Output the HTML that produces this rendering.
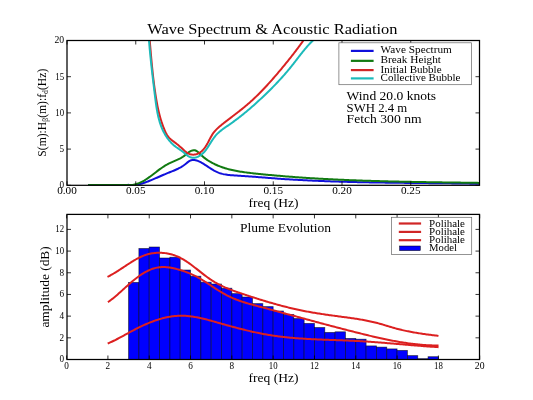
<!DOCTYPE html>
<html><head><meta charset="utf-8"><style>
html,body{margin:0;padding:0;background:#fff;width:533px;height:400px;overflow:hidden}
svg{display:block;font-family:"Liberation Serif",serif;filter:blur(0.35px)}
text{stroke:none}
</style></head><body>
<svg width="533" height="400" viewBox="0 0 533 400" font-family="Liberation Serif" fill="#000"><rect x="0" y="0" width="533" height="400" fill="#fff"/>
<defs><clipPath id="c1"><rect x="67.00" y="40.50" width="412.50" height="144.80"/></clipPath>
<clipPath id="c2"><rect x="67.00" y="214.40" width="412.50" height="145.10"/></clipPath></defs>
<g clip-path="url(#c1)" fill="none" stroke-width="2" stroke-linejoin="round" stroke-linecap="butt">
<path d="M88.1,184.9 L128,184.9 L127.98,184.85 L129.25,185.07 L130.51,185.21 L131.74,185.28 L132.95,185.27 L134.15,185.21 L135.34,185.08 L136.52,184.90 L137.68,184.68 L138.84,184.42 L139.98,184.12 L141.13,183.79 L142.27,183.44 L143.40,183.07 L144.53,182.68 L145.67,182.28 L146.79,181.86 L147.92,181.44 L149.05,181.00 L150.17,180.55 L151.29,180.09 L152.41,179.63 L153.53,179.15 L154.65,178.68 L155.77,178.19 L156.88,177.71 L158.00,177.22 L159.12,176.73 L160.23,176.24 L161.34,175.76 L162.46,175.27 L163.57,174.79 L164.68,174.32 L165.80,173.85 L166.91,173.38 L168.02,172.93 L169.14,172.48 L170.25,172.04 L171.36,171.60 L172.47,171.15 L173.58,170.70 L174.68,170.24 L175.77,169.76 L176.86,169.26 L177.94,168.75 L179.01,168.20 L180.08,167.63 L181.13,167.03 L182.17,166.39 L183.20,165.72 L184.22,164.99 L185.23,164.23 L186.22,163.42 L187.20,162.62 L188.19,161.86 L189.19,161.18 L190.20,160.64 L191.24,160.26 L192.30,160.05 L193.38,159.98 L194.47,160.05 L195.57,160.23 L196.68,160.53 L197.79,160.91 L198.90,161.38 L200.01,161.90 L201.10,162.48 L202.19,163.09 L203.26,163.73 L204.32,164.38 L205.37,165.04 L206.40,165.71 L207.43,166.39 L208.46,167.06 L209.48,167.73 L210.50,168.39 L211.53,169.04 L212.56,169.67 L213.59,170.28 L214.64,170.86 L215.69,171.41 L216.76,171.93 L217.84,172.41 L218.94,172.84 L220.05,173.23 L221.19,173.57 L222.34,173.88 L223.50,174.15 L224.68,174.38 L225.87,174.58 L227.07,174.76 L228.27,174.92 L229.49,175.05 L230.71,175.16 L231.94,175.26 L233.17,175.35 L234.41,175.43 L235.64,175.51 L236.87,175.58 L238.11,175.65 L239.34,175.73 L240.57,175.81 L241.79,175.89 L243.02,175.97 L244.24,176.05 L245.46,176.14 L246.68,176.22 L247.89,176.31 L249.11,176.40 L250.32,176.49 L251.53,176.58 L252.75,176.67 L253.95,176.77 L255.16,176.86 L256.37,176.96 L257.58,177.05 L258.78,177.15 L259.99,177.24 L261.19,177.34 L262.39,177.43 L263.60,177.53 L264.80,177.62 L266.00,177.72 L267.20,177.81 L268.40,177.91 L269.60,178.00 L270.80,178.10 L272.00,178.19 L273.20,178.28 L274.40,178.37 L275.60,178.46 L276.81,178.55 L278.01,178.63 L279.21,178.72 L280.41,178.80 L281.61,178.89 L282.81,178.97 L284.01,179.05 L285.22,179.13 L286.42,179.21 L287.62,179.28 L288.83,179.36 L290.03,179.43 L291.23,179.51 L292.44,179.58 L293.64,179.65 L294.84,179.72 L296.05,179.79 L297.25,179.86 L298.46,179.93 L299.66,179.99 L300.87,180.06 L302.07,180.12 L303.28,180.19 L304.48,180.25 L305.69,180.31 L306.89,180.37 L308.10,180.43 L309.31,180.49 L310.51,180.54 L311.72,180.60 L312.92,180.65 L314.13,180.71 L315.34,180.76 L316.54,180.81 L317.75,180.87 L318.96,180.92 L320.17,180.97 L321.37,181.02 L322.58,181.06 L323.79,181.11 L325.00,181.16 L326.21,181.20 L327.41,181.25 L328.62,181.29 L329.83,181.34 L331.04,181.38 L332.25,181.42 L333.46,181.46 L334.66,181.50 L335.87,181.54 L337.08,181.58 L338.29,181.62 L339.50,181.65 L340.71,181.69 L341.92,181.73 L343.13,181.76 L344.34,181.80 L345.55,181.83 L346.76,181.86 L347.97,181.90 L349.18,181.93 L350.39,181.96 L351.60,181.99 L352.81,182.02 L354.02,182.05 L355.23,182.08 L356.44,182.11 L357.65,182.13 L358.86,182.16 L360.07,182.19 L361.28,182.21 L362.49,182.24 L363.70,182.26 L364.91,182.29 L366.12,182.31 L367.33,182.34 L368.54,182.36 L369.75,182.38 L370.97,182.40 L372.18,182.43 L373.39,182.45 L374.60,182.47 L375.81,182.49 L377.02,182.51 L378.23,182.53 L379.44,182.55 L380.65,182.57 L381.86,182.59 L383.07,182.60 L384.29,182.62 L385.50,182.64 L386.71,182.66 L387.92,182.67 L389.13,182.69 L390.34,182.71 L391.55,182.72 L392.76,182.74 L393.97,182.75 L395.18,182.77 L396.39,182.78 L397.61,182.80 L398.82,182.81 L400.03,182.83 L401.24,182.84 L402.45,182.86 L403.66,182.87 L404.87,182.88 L406.08,182.90 L407.29,182.91 L408.50,182.92 L409.71,182.94 L410.92,182.95 L412.13,182.96 L413.34,182.97 L414.55,182.99 L415.76,183.00 L416.97,183.01 L418.18,183.02 L419.39,183.04 L420.60,183.05 L421.81,183.06 L423.02,183.07 L424.23,183.08 L425.44,183.10 L426.65,183.11 L427.86,183.12 L429.07,183.13 L430.28,183.15 L431.49,183.16 L432.70,183.17 L433.91,183.18 L435.12,183.20 L436.32,183.21 L437.53,183.22 L438.74,183.23 L439.95,183.25 L441.16,183.26 L442.37,183.27 L443.57,183.29 L444.78,183.30 L445.99,183.31 L447.20,183.33 L448.40,183.34 L449.61,183.36 L450.82,183.37 L452.03,183.39 L453.23,183.40 L454.44,183.42 L455.65,183.43 L456.85,183.45 L458.06,183.46 L459.27,183.48 L460.47,183.50 L461.68,183.51 L462.88,183.53 L464.09,183.55 L465.29,183.57 L466.50,183.59 L467.70,183.60 L468.91,183.62 L470.11,183.64 L471.32,183.66 L472.52,183.68 L473.73,183.70 L474.93,183.72 L476.14,183.75 L477.34,183.77 L478.54,183.79 L479.75,183.81" stroke="#1010dc"/>
<path d="M88.1,184.9 L128,184.9 L127.96,185.05 L129.26,185.06 L130.53,185.01 L131.77,184.90 L132.99,184.74 L134.19,184.52 L135.37,184.25 L136.53,183.93 L137.67,183.56 L138.79,183.15 L139.89,182.70 L140.98,182.21 L142.06,181.68 L143.12,181.12 L144.17,180.53 L145.21,179.91 L146.24,179.26 L147.26,178.59 L148.27,177.90 L149.28,177.19 L150.28,176.46 L151.27,175.72 L152.27,174.97 L153.26,174.22 L154.25,173.46 L155.24,172.69 L156.23,171.93 L157.23,171.17 L158.23,170.41 L159.23,169.66 L160.24,168.92 L161.26,168.19 L162.28,167.48 L163.31,166.79 L164.36,166.12 L165.41,165.47 L166.48,164.85 L167.56,164.25 L168.65,163.69 L169.76,163.15 L170.88,162.63 L172.00,162.12 L173.12,161.63 L174.24,161.14 L175.36,160.65 L176.48,160.16 L177.58,159.65 L178.67,159.13 L179.75,158.59 L180.80,158.03 L181.84,157.43 L182.85,156.79 L183.84,156.12 L184.79,155.40 L185.72,154.63 L186.64,153.83 L187.60,153.03 L188.63,152.25 L189.77,151.54 L191.04,150.91 L192.39,150.44 L193.72,150.22 L194.93,150.30 L196.03,150.68 L197.03,151.30 L197.96,152.07 L198.86,152.93 L199.76,153.83 L200.66,154.69 L201.59,155.54 L202.53,156.35 L203.48,157.14 L204.46,157.91 L205.44,158.65 L206.44,159.36 L207.45,160.05 L208.48,160.72 L209.51,161.36 L210.56,161.98 L211.62,162.58 L212.69,163.16 L213.78,163.71 L214.87,164.25 L215.97,164.76 L217.08,165.25 L218.20,165.73 L219.33,166.18 L220.46,166.62 L221.60,167.04 L222.75,167.44 L223.91,167.82 L225.07,168.19 L226.23,168.54 L227.40,168.87 L228.58,169.19 L229.75,169.49 L230.94,169.78 L232.13,170.06 L233.32,170.32 L234.51,170.58 L235.71,170.82 L236.91,171.04 L238.12,171.26 L239.33,171.47 L240.54,171.67 L241.75,171.86 L242.97,172.04 L244.19,172.21 L245.41,172.38 L246.63,172.54 L247.85,172.70 L249.07,172.84 L250.30,172.99 L251.53,173.13 L252.75,173.27 L253.98,173.40 L255.21,173.53 L256.44,173.66 L257.66,173.79 L258.89,173.91 L260.12,174.04 L261.35,174.16 L262.57,174.29 L263.80,174.41 L265.03,174.53 L266.26,174.65 L267.48,174.76 L268.71,174.88 L269.94,174.99 L271.17,175.11 L272.39,175.22 L273.62,175.33 L274.85,175.44 L276.07,175.55 L277.30,175.66 L278.53,175.76 L279.75,175.87 L280.98,175.97 L282.21,176.08 L283.43,176.18 L284.66,176.28 L285.89,176.38 L287.11,176.47 L288.34,176.57 L289.56,176.67 L290.79,176.76 L292.02,176.85 L293.24,176.95 L294.47,177.04 L295.70,177.13 L296.92,177.22 L298.15,177.31 L299.37,177.39 L300.60,177.48 L301.82,177.56 L303.05,177.65 L304.28,177.73 L305.50,177.81 L306.73,177.89 L307.95,177.97 L309.18,178.05 L310.40,178.13 L311.63,178.20 L312.86,178.28 L314.08,178.35 L315.31,178.43 L316.53,178.50 L317.76,178.57 L318.98,178.64 L320.21,178.71 L321.43,178.78 L322.66,178.85 L323.89,178.92 L325.11,178.98 L326.34,179.05 L327.56,179.11 L328.79,179.17 L330.01,179.24 L331.24,179.30 L332.46,179.36 L333.69,179.42 L334.91,179.48 L336.14,179.54 L337.36,179.60 L338.59,179.65 L339.81,179.71 L341.04,179.76 L342.26,179.82 L343.49,179.87 L344.72,179.92 L345.94,179.98 L347.17,180.03 L348.39,180.08 L349.62,180.13 L350.84,180.18 L352.07,180.23 L353.29,180.27 L354.52,180.32 L355.74,180.37 L356.97,180.41 L358.19,180.46 L359.42,180.50 L360.64,180.54 L361.87,180.59 L363.10,180.63 L364.32,180.67 L365.55,180.71 L366.77,180.75 L368.00,180.79 L369.22,180.83 L370.45,180.87 L371.67,180.91 L372.90,180.94 L374.13,180.98 L375.35,181.02 L376.58,181.05 L377.80,181.09 L379.03,181.12 L380.25,181.16 L381.48,181.19 L382.71,181.22 L383.93,181.26 L385.16,181.29 L386.38,181.32 L387.61,181.35 L388.84,181.38 L390.06,181.41 L391.29,181.44 L392.51,181.47 L393.74,181.50 L394.97,181.53 L396.19,181.55 L397.42,181.58 L398.65,181.61 L399.87,181.64 L401.10,181.66 L402.33,181.69 L403.55,181.71 L404.78,181.74 L406.01,181.76 L407.23,181.79 L408.46,181.81 L409.69,181.83 L410.91,181.86 L412.14,181.88 L413.37,181.90 L414.60,181.93 L415.82,181.95 L417.05,181.97 L418.28,181.99 L419.50,182.01 L420.73,182.03 L421.96,182.05 L423.19,182.08 L424.42,182.10 L425.64,182.12 L426.87,182.14 L428.10,182.16 L429.33,182.17 L430.56,182.19 L431.78,182.21 L433.01,182.23 L434.24,182.25 L435.47,182.27 L436.70,182.29 L437.93,182.31 L439.15,182.32 L440.38,182.34 L441.61,182.36 L442.84,182.38 L444.07,182.39 L445.30,182.41 L446.53,182.43 L447.76,182.45 L448.99,182.46 L450.22,182.48 L451.45,182.50 L452.68,182.52 L453.91,182.53 L455.14,182.55 L456.37,182.57 L457.60,182.58 L458.83,182.60 L460.06,182.62 L461.29,182.63 L462.52,182.65 L463.75,182.67 L464.98,182.68 L466.21,182.70 L467.44,182.72 L468.67,182.74 L469.90,182.75 L471.13,182.77 L472.37,182.79 L473.60,182.81 L474.83,182.82 L476.06,182.84 L477.29,182.86 L478.52,182.88 L479.76,182.89" stroke="#117a11"/>
<path d="M148.82,29.98 L148.91,31.02 L149.01,32.06 L149.10,33.09 L149.19,34.13 L149.28,35.17 L149.37,36.20 L149.46,37.24 L149.55,38.28 L149.63,39.31 L149.72,40.35 L149.81,41.38 L149.90,42.41 L149.98,43.45 L150.07,44.48 L150.16,45.51 L150.25,46.54 L150.33,47.58 L150.42,48.61 L150.51,49.64 L150.60,50.67 L150.69,51.70 L150.78,52.73 L150.87,53.76 L150.96,54.79 L151.05,55.82 L151.14,56.84 L151.23,57.87 L151.32,58.90 L151.42,59.93 L151.51,60.96 L151.61,61.98 L151.71,63.01 L151.80,64.04 L151.90,65.06 L152.00,66.09 L152.10,67.12 L152.21,68.14 L152.31,69.17 L152.42,70.20 L152.52,71.22 L152.63,72.25 L152.74,73.27 L152.85,74.30 L152.97,75.32 L153.08,76.35 L153.20,77.38 L153.32,78.40 L153.44,79.43 L153.56,80.45 L153.69,81.48 L153.82,82.50 L153.95,83.53 L154.08,84.55 L154.21,85.58 L154.35,86.61 L154.49,87.63 L154.63,88.66 L154.78,89.68 L154.92,90.71 L155.07,91.74 L155.22,92.76 L155.38,93.79 L155.54,94.82 L155.70,95.84 L155.86,96.87 L156.03,97.90 L156.20,98.92 L156.38,99.95 L156.55,100.98 L156.74,102.00 L156.93,103.02 L157.12,104.05 L157.31,105.07 L157.52,106.09 L157.73,107.11 L157.94,108.13 L158.16,109.15 L158.38,110.16 L158.61,111.17 L158.85,112.18 L159.10,113.19 L159.35,114.20 L159.61,115.20 L159.88,116.20 L160.15,117.20 L160.43,118.20 L160.72,119.19 L161.02,120.18 L161.33,121.16 L161.64,122.15 L161.97,123.12 L162.30,124.10 L162.65,125.07 L163.00,126.04 L163.36,127.00 L163.74,127.96 L164.12,128.91 L164.51,129.86 L164.92,130.80 L165.34,131.74 L165.78,132.66 L166.25,133.56 L166.74,134.45 L167.26,135.31 L167.82,136.14 L168.42,136.93 L169.07,137.69 L169.76,138.41 L170.50,139.09 L171.27,139.75 L172.07,140.39 L172.89,141.01 L173.73,141.63 L174.56,142.25 L175.40,142.88 L176.23,143.52 L177.06,144.17 L177.88,144.84 L178.70,145.51 L179.51,146.20 L180.32,146.90 L181.12,147.61 L181.91,148.34 L182.70,149.07 L183.48,149.81 L184.27,150.54 L185.07,151.24 L185.88,151.90 L186.70,152.51 L187.55,153.06 L188.42,153.54 L189.33,153.93 L190.26,154.23 L191.20,154.46 L192.16,154.59 L193.14,154.65 L194.11,154.61 L195.08,154.50 L196.04,154.30 L196.99,154.02 L197.93,153.66 L198.83,153.22 L199.71,152.69 L200.56,152.09 L201.38,151.43 L202.17,150.71 L202.92,149.94 L203.64,149.13 L204.33,148.29 L204.98,147.42 L205.60,146.54 L206.18,145.64 L206.74,144.73 L207.27,143.80 L207.79,142.88 L208.29,141.94 L208.78,141.01 L209.26,140.08 L209.74,139.15 L210.23,138.22 L210.72,137.31 L211.22,136.40 L211.73,135.51 L212.26,134.64 L212.82,133.78 L213.40,132.94 L214.02,132.13 L214.66,131.34 L215.33,130.57 L216.03,129.83 L216.75,129.10 L217.49,128.38 L218.25,127.68 L219.02,127.00 L219.81,126.32 L220.61,125.65 L221.42,125.00 L222.23,124.34 L223.04,123.69 L223.86,123.05 L224.68,122.41 L225.50,121.77 L226.32,121.13 L227.14,120.49 L227.96,119.86 L228.78,119.23 L229.60,118.60 L230.42,117.97 L231.24,117.34 L232.07,116.71 L232.89,116.08 L233.71,115.45 L234.53,114.82 L235.35,114.19 L236.17,113.56 L236.98,112.93 L237.80,112.30 L238.61,111.66 L239.43,111.03 L240.24,110.39 L241.04,109.75 L241.85,109.11 L242.65,108.46 L243.45,107.81 L244.25,107.16 L245.05,106.50 L245.84,105.84 L246.63,105.18 L247.41,104.51 L248.19,103.83 L248.97,103.16 L249.74,102.47 L250.52,101.79 L251.28,101.09 L252.05,100.40 L252.81,99.70 L253.56,98.99 L254.32,98.29 L255.07,97.57 L255.82,96.86 L256.56,96.14 L257.30,95.42 L258.04,94.69 L258.78,93.96 L259.51,93.23 L260.24,92.49 L260.96,91.75 L261.69,91.01 L262.41,90.26 L263.13,89.52 L263.84,88.76 L264.56,88.01 L265.27,87.25 L265.98,86.49 L266.68,85.73 L267.38,84.97 L268.08,84.20 L268.78,83.43 L269.48,82.66 L270.17,81.89 L270.86,81.11 L271.55,80.34 L272.24,79.56 L272.93,78.78 L273.61,78.00 L274.29,77.21 L274.97,76.43 L275.65,75.64 L276.32,74.85 L276.99,74.07 L277.67,73.28 L278.34,72.48 L279.00,71.69 L279.67,70.90 L280.34,70.11 L281.00,69.31 L281.66,68.52 L282.32,67.72 L282.98,66.93 L283.64,66.13 L284.30,65.33 L284.95,64.53 L285.60,63.73 L286.25,62.93 L286.90,62.13 L287.55,61.33 L288.20,60.53 L288.84,59.72 L289.49,58.92 L290.13,58.11 L290.77,57.30 L291.40,56.49 L292.04,55.68 L292.67,54.87 L293.31,54.05 L293.94,53.24 L294.57,52.42 L295.19,51.60 L295.82,50.78 L296.44,49.96 L297.07,49.13 L297.69,48.31 L298.30,47.48 L298.92,46.65 L299.54,45.82 L300.15,44.98 L300.76,44.15 L301.37,43.31 L301.97,42.47 L302.58,41.63 L303.18,40.78 L303.78,39.93 L304.38,39.08 L304.98,38.23 L305.57,37.37 L306.17,36.52 L306.76,35.66 L307.35,34.79 L307.93,33.93" stroke="#d82222"/>
<path d="M148.29,29.94 L148.36,31.04 L148.42,32.13 L148.49,33.22 L148.57,34.31 L148.64,35.40 L148.72,36.49 L148.79,37.57 L148.87,38.65 L148.95,39.73 L149.04,40.81 L149.12,41.89 L149.21,42.97 L149.30,44.04 L149.39,45.11 L149.48,46.19 L149.57,47.26 L149.66,48.33 L149.76,49.39 L149.86,50.46 L149.96,51.53 L150.06,52.59 L150.16,53.66 L150.26,54.72 L150.37,55.78 L150.47,56.85 L150.58,57.91 L150.69,58.97 L150.80,60.03 L150.91,61.09 L151.02,62.15 L151.13,63.21 L151.24,64.27 L151.36,65.33 L151.47,66.39 L151.59,67.44 L151.71,68.50 L151.83,69.56 L151.95,70.62 L152.07,71.68 L152.19,72.74 L152.31,73.80 L152.43,74.86 L152.56,75.92 L152.68,76.98 L152.81,78.04 L152.93,79.11 L153.06,80.17 L153.19,81.23 L153.31,82.30 L153.44,83.37 L153.57,84.43 L153.70,85.50 L153.83,86.57 L153.96,87.64 L154.09,88.71 L154.22,89.78 L154.35,90.86 L154.48,91.93 L154.61,93.01 L154.74,94.09 L154.88,95.17 L155.01,96.25 L155.14,97.34 L155.28,98.42 L155.41,99.50 L155.55,100.59 L155.69,101.68 L155.84,102.76 L155.99,103.84 L156.14,104.93 L156.30,106.01 L156.46,107.09 L156.64,108.17 L156.81,109.25 L157.00,110.32 L157.19,111.39 L157.39,112.46 L157.60,113.52 L157.82,114.58 L158.05,115.64 L158.29,116.69 L158.54,117.74 L158.81,118.78 L159.08,119.82 L159.37,120.85 L159.67,121.87 L159.99,122.89 L160.32,123.91 L160.66,124.91 L161.02,125.91 L161.40,126.90 L161.79,127.88 L162.20,128.85 L162.63,129.82 L163.07,130.77 L163.54,131.72 L164.02,132.66 L164.52,133.59 L165.05,134.50 L165.59,135.41 L166.16,136.30 L166.74,137.19 L167.35,138.06 L167.98,138.91 L168.63,139.76 L169.30,140.58 L169.99,141.39 L170.70,142.19 L171.43,142.96 L172.19,143.72 L172.96,144.45 L173.75,145.17 L174.57,145.86 L175.40,146.54 L176.26,147.18 L177.14,147.81 L178.03,148.42 L178.93,149.02 L179.84,149.62 L180.75,150.23 L181.66,150.86 L182.56,151.52 L183.45,152.22 L184.32,152.95 L185.18,153.70 L186.03,154.45 L186.90,155.16 L187.77,155.83 L188.65,156.42 L189.56,156.92 L190.50,157.31 L191.46,157.57 L192.45,157.72 L193.45,157.75 L194.46,157.68 L195.48,157.51 L196.49,157.24 L197.49,156.89 L198.47,156.46 L199.43,155.95 L200.36,155.38 L201.25,154.75 L202.10,154.06 L202.91,153.33 L203.68,152.55 L204.42,151.74 L205.13,150.89 L205.81,150.02 L206.47,149.14 L207.10,148.23 L207.72,147.32 L208.32,146.41 L208.92,145.48 L209.50,144.56 L210.08,143.63 L210.65,142.71 L211.23,141.80 L211.81,140.89 L212.40,139.98 L212.99,139.10 L213.60,138.22 L214.23,137.36 L214.88,136.52 L215.54,135.70 L216.24,134.90 L216.96,134.13 L217.70,133.38 L218.48,132.66 L219.27,131.95 L220.09,131.27 L220.92,130.60 L221.77,129.94 L222.64,129.30 L223.51,128.66 L224.39,128.04 L225.28,127.42 L226.18,126.80 L227.08,126.19 L227.97,125.57 L228.87,124.96 L229.76,124.34 L230.65,123.71 L231.53,123.08 L232.41,122.45 L233.28,121.82 L234.16,121.18 L235.02,120.54 L235.89,119.89 L236.75,119.25 L237.61,118.59 L238.46,117.94 L239.31,117.28 L240.16,116.62 L241.00,115.95 L241.84,115.29 L242.68,114.61 L243.51,113.94 L244.34,113.26 L245.17,112.58 L246.00,111.90 L246.82,111.21 L247.64,110.52 L248.46,109.83 L249.27,109.14 L250.09,108.44 L250.90,107.74 L251.71,107.04 L252.51,106.33 L253.31,105.63 L254.12,104.91 L254.92,104.20 L255.71,103.49 L256.51,102.77 L257.30,102.05 L258.09,101.33 L258.88,100.60 L259.67,99.87 L260.46,99.14 L261.25,98.41 L262.03,97.68 L262.81,96.94 L263.59,96.21 L264.37,95.46 L265.15,94.72 L265.92,93.98 L266.69,93.23 L267.46,92.48 L268.23,91.73 L269.00,90.97 L269.76,90.22 L270.53,89.46 L271.29,88.70 L272.04,87.93 L272.80,87.16 L273.55,86.40 L274.30,85.62 L275.05,84.85 L275.80,84.07 L276.54,83.29 L277.28,82.51 L278.02,81.73 L278.75,80.94 L279.48,80.15 L280.21,79.36 L280.94,78.57 L281.66,77.77 L282.38,76.97 L283.09,76.17 L283.81,75.36 L284.52,74.55 L285.22,73.74 L285.93,72.93 L286.63,72.11 L287.32,71.29 L288.02,70.47 L288.71,69.65 L289.39,68.82 L290.08,67.99 L290.75,67.16 L291.43,66.32 L292.10,65.48 L292.77,64.64 L293.43,63.80 L294.09,62.95 L294.75,62.10 L295.41,61.25 L296.06,60.40 L296.71,59.55 L297.37,58.70 L298.02,57.84 L298.67,56.99 L299.33,56.14 L299.98,55.29 L300.64,54.45 L301.30,53.60 L301.97,52.76 L302.64,51.92 L303.31,51.09 L303.99,50.26 L304.67,49.43 L305.36,48.61 L306.05,47.79 L306.76,46.98 L307.47,46.18 L308.18,45.38 L308.91,44.59 L309.65,43.81 L310.39,43.03 L311.15,42.26 L311.92,41.51 L312.69,40.76 L313.48,40.01 L314.27,39.27 L315.05,38.52 L315.78,37.74 L316.47,36.91 L317.09,36.03 L317.62,35.08 L318.05,34.04" stroke="#1cbaba"/>
</g>
<path d="M67.00,185.30v-4M67.00,40.50v4M135.75,185.30v-4M135.75,40.50v4M204.50,185.30v-4M204.50,40.50v4M273.25,185.30v-4M273.25,40.50v4M342.00,185.30v-4M342.00,40.50v4M410.75,185.30v-4M410.75,40.50v4M67.00,185.30h4M479.50,185.30h-4M67.00,149.10h4M479.50,149.10h-4M67.00,112.90h4M479.50,112.90h-4M67.00,76.70h4M479.50,76.70h-4M67.00,40.50h4M479.50,40.50h-4" stroke="#000" stroke-width="0.8" fill="none"/>
<rect x="67.00" y="40.50" width="412.50" height="144.80" fill="none" stroke="#000" stroke-width="1.25"/>
<text x="67.00" y="194.30" font-size="10.00" textLength="19.60" lengthAdjust="spacingAndGlyphs" text-anchor="middle" >0.00</text>
<text x="135.75" y="194.30" font-size="10.00" textLength="19.60" lengthAdjust="spacingAndGlyphs" text-anchor="middle" >0.05</text>
<text x="204.50" y="194.30" font-size="10.00" textLength="19.60" lengthAdjust="spacingAndGlyphs" text-anchor="middle" >0.10</text>
<text x="273.25" y="194.30" font-size="10.00" textLength="19.60" lengthAdjust="spacingAndGlyphs" text-anchor="middle" >0.15</text>
<text x="342.00" y="194.30" font-size="10.00" textLength="19.60" lengthAdjust="spacingAndGlyphs" text-anchor="middle" >0.20</text>
<text x="410.75" y="194.30" font-size="10.00" textLength="19.60" lengthAdjust="spacingAndGlyphs" text-anchor="middle" >0.25</text>
<text x="64.10" y="188.10" font-size="9.70" textLength="4.60" lengthAdjust="spacingAndGlyphs" text-anchor="end" >0</text>
<text x="64.10" y="151.90" font-size="9.70" textLength="4.60" lengthAdjust="spacingAndGlyphs" text-anchor="end" >5</text>
<text x="64.10" y="115.70" font-size="9.70" textLength="8.80" lengthAdjust="spacingAndGlyphs" text-anchor="end" >10</text>
<text x="64.10" y="79.50" font-size="9.70" textLength="8.80" lengthAdjust="spacingAndGlyphs" text-anchor="end" >15</text>
<text x="64.10" y="43.30" font-size="9.70" textLength="9.70" lengthAdjust="spacingAndGlyphs" text-anchor="end" >20</text>
<text x="147.30" y="33.85" font-size="14.90" textLength="250.20" lengthAdjust="spacingAndGlyphs" >Wave Spectrum &amp; Acoustic Radiation</text>
<text x="248.60" y="207.40" font-size="12.40" textLength="49.80" lengthAdjust="spacingAndGlyphs" >freq (Hz)</text>
<g transform="translate(46.2,156.7) rotate(-90)"><text x="0" y="0" font-size="12.2" font-family="Liberation Serif" fill="#000" textLength="88" lengthAdjust="spacingAndGlyphs">S(m):H<tspan font-size="8" dy="1.6">β</tspan><tspan dy="-1.6">(m):f</tspan><tspan font-size="8" dy="1.6">d</tspan><tspan dy="-1.6">(Hz)</tspan></text></g>
<rect x="338.9" y="42.8" width="132.6" height="41.9" fill="#fff" stroke="#666" stroke-width="0.7"/>
<path d="M350.9,50.90H373.6" stroke="#1010dc" stroke-width="2.2"/>
<path d="M350.9,60.85H373.6" stroke="#117a11" stroke-width="2.2"/>
<path d="M350.9,70.10H373.6" stroke="#d02626" stroke-width="2.2"/>
<path d="M350.9,78.40H373.6" stroke="#1cbaba" stroke-width="2.2"/>
<text x="380.60" y="52.75" font-size="10.40" textLength="71.30" lengthAdjust="spacingAndGlyphs" >Wave Spectrum</text>
<text x="380.60" y="62.50" font-size="10.40" textLength="60.40" lengthAdjust="spacingAndGlyphs" >Break Height</text>
<text x="380.60" y="72.80" font-size="10.40" textLength="61.00" lengthAdjust="spacingAndGlyphs" >Initial Bubble</text>
<text x="380.60" y="80.90" font-size="10.40" textLength="79.80" lengthAdjust="spacingAndGlyphs" >Collective Bubble</text>
<text x="346.60" y="100.00" font-size="12.10" textLength="89.50" lengthAdjust="spacingAndGlyphs" >Wind 20.0 knots</text>
<text x="346.60" y="111.60" font-size="12.10" textLength="60.60" lengthAdjust="spacingAndGlyphs" >SWH 2.4 m</text>
<text x="346.60" y="123.30" font-size="12.10" textLength="75.00" lengthAdjust="spacingAndGlyphs" >Fetch 300 nm</text>
<g clip-path="url(#c2)">
<rect x="128.56" y="282.40" width="10.33" height="77.10" fill="#0000ff" stroke="#000" stroke-width="0.8" stroke-opacity="0.6"/>
<rect x="138.89" y="248.50" width="10.33" height="111.00" fill="#0000ff" stroke="#000" stroke-width="0.8" stroke-opacity="0.6"/>
<rect x="149.22" y="247.00" width="10.33" height="112.50" fill="#0000ff" stroke="#000" stroke-width="0.8" stroke-opacity="0.6"/>
<rect x="159.55" y="258.00" width="10.33" height="101.50" fill="#0000ff" stroke="#000" stroke-width="0.8" stroke-opacity="0.6"/>
<rect x="169.88" y="257.20" width="10.33" height="102.30" fill="#0000ff" stroke="#000" stroke-width="0.8" stroke-opacity="0.6"/>
<rect x="180.20" y="270.00" width="10.33" height="89.50" fill="#0000ff" stroke="#000" stroke-width="0.8" stroke-opacity="0.6"/>
<rect x="190.53" y="276.20" width="10.33" height="83.30" fill="#0000ff" stroke="#000" stroke-width="0.8" stroke-opacity="0.6"/>
<rect x="200.86" y="282.20" width="10.33" height="77.30" fill="#0000ff" stroke="#000" stroke-width="0.8" stroke-opacity="0.6"/>
<rect x="211.19" y="284.00" width="10.33" height="75.50" fill="#0000ff" stroke="#000" stroke-width="0.8" stroke-opacity="0.6"/>
<rect x="221.51" y="288.20" width="10.33" height="71.30" fill="#0000ff" stroke="#000" stroke-width="0.8" stroke-opacity="0.6"/>
<rect x="231.84" y="293.60" width="10.33" height="65.90" fill="#0000ff" stroke="#000" stroke-width="0.8" stroke-opacity="0.6"/>
<rect x="242.17" y="297.00" width="10.33" height="62.50" fill="#0000ff" stroke="#000" stroke-width="0.8" stroke-opacity="0.6"/>
<rect x="252.50" y="303.60" width="10.33" height="55.90" fill="#0000ff" stroke="#000" stroke-width="0.8" stroke-opacity="0.6"/>
<rect x="262.82" y="306.60" width="10.33" height="52.90" fill="#0000ff" stroke="#000" stroke-width="0.8" stroke-opacity="0.6"/>
<rect x="273.15" y="311.00" width="10.33" height="48.50" fill="#0000ff" stroke="#000" stroke-width="0.8" stroke-opacity="0.6"/>
<rect x="283.48" y="314.40" width="10.33" height="45.10" fill="#0000ff" stroke="#000" stroke-width="0.8" stroke-opacity="0.6"/>
<rect x="293.81" y="318.50" width="10.33" height="41.00" fill="#0000ff" stroke="#000" stroke-width="0.8" stroke-opacity="0.6"/>
<rect x="304.13" y="323.40" width="10.33" height="36.10" fill="#0000ff" stroke="#000" stroke-width="0.8" stroke-opacity="0.6"/>
<rect x="314.46" y="327.50" width="10.33" height="32.00" fill="#0000ff" stroke="#000" stroke-width="0.8" stroke-opacity="0.6"/>
<rect x="324.79" y="332.40" width="10.33" height="27.10" fill="#0000ff" stroke="#000" stroke-width="0.8" stroke-opacity="0.6"/>
<rect x="335.12" y="331.80" width="10.33" height="27.70" fill="#0000ff" stroke="#000" stroke-width="0.8" stroke-opacity="0.6"/>
<rect x="345.44" y="338.40" width="10.33" height="21.10" fill="#0000ff" stroke="#000" stroke-width="0.8" stroke-opacity="0.6"/>
<rect x="355.77" y="339.20" width="10.33" height="20.30" fill="#0000ff" stroke="#000" stroke-width="0.8" stroke-opacity="0.6"/>
<rect x="366.10" y="345.90" width="10.33" height="13.60" fill="#0000ff" stroke="#000" stroke-width="0.8" stroke-opacity="0.6"/>
<rect x="376.42" y="347.10" width="10.33" height="12.40" fill="#0000ff" stroke="#000" stroke-width="0.8" stroke-opacity="0.6"/>
<rect x="386.75" y="348.90" width="10.33" height="10.60" fill="#0000ff" stroke="#000" stroke-width="0.8" stroke-opacity="0.6"/>
<rect x="397.08" y="350.40" width="10.33" height="9.10" fill="#0000ff" stroke="#000" stroke-width="0.8" stroke-opacity="0.6"/>
<rect x="407.41" y="355.60" width="10.33" height="3.90" fill="#0000ff" stroke="#000" stroke-width="0.8" stroke-opacity="0.6"/>
<rect x="417.74" y="358.70" width="10.33" height="0.80" fill="#0000ff" stroke="#000" stroke-width="0.8" stroke-opacity="0.6"/>
<rect x="428.06" y="356.70" width="10.33" height="2.80" fill="#0000ff" stroke="#000" stroke-width="0.8" stroke-opacity="0.6"/>
<g fill="none" stroke="#dc2020" stroke-width="2" stroke-linejoin="round">
<path d="M107.48,276.82 L108.53,276.31 L109.56,275.78 L110.59,275.24 L111.62,274.67 L112.64,274.10 L113.65,273.51 L114.66,272.91 L115.67,272.30 L116.67,271.67 L117.67,271.04 L118.67,270.41 L119.66,269.76 L120.65,269.11 L121.65,268.46 L122.64,267.80 L123.63,267.15 L124.62,266.49 L125.61,265.83 L126.61,265.17 L127.60,264.52 L128.60,263.86 L129.61,263.22 L130.61,262.58 L131.62,261.94 L132.64,261.32 L133.66,260.70 L134.68,260.10 L135.71,259.50 L136.75,258.92 L137.80,258.35 L138.85,257.81 L139.91,257.28 L140.98,256.77 L142.06,256.29 L143.15,255.84 L144.25,255.41 L145.36,255.01 L146.48,254.65 L147.61,254.32 L148.74,254.02 L149.89,253.75 L151.04,253.52 L152.20,253.31 L153.37,253.14 L154.54,253.00 L155.71,252.89 L156.89,252.81 L158.06,252.76 L159.24,252.75 L160.42,252.76 L161.60,252.80 L162.77,252.88 L163.94,252.98 L165.11,253.12 L166.28,253.28 L167.44,253.47 L168.59,253.70 L169.73,253.95 L170.87,254.23 L172.00,254.54 L173.12,254.88 L174.22,255.25 L175.32,255.64 L176.40,256.07 L177.47,256.52 L178.53,257.00 L179.58,257.50 L180.62,258.02 L181.65,258.57 L182.67,259.14 L183.68,259.73 L184.68,260.34 L185.68,260.96 L186.67,261.60 L187.65,262.26 L188.62,262.93 L189.59,263.61 L190.56,264.31 L191.52,265.01 L192.48,265.73 L193.43,266.45 L194.38,267.18 L195.33,267.92 L196.28,268.66 L197.22,269.40 L198.16,270.15 L199.11,270.89 L200.05,271.64 L201.00,272.39 L201.94,273.13 L202.89,273.87 L203.84,274.61 L204.79,275.34 L205.75,276.06 L206.70,276.77 L207.67,277.48 L208.64,278.17 L209.61,278.85 L210.59,279.52 L211.57,280.18 L212.57,280.82 L213.57,281.44 L214.57,282.05 L215.59,282.64 L216.61,283.22 L217.63,283.78 L218.67,284.33 L219.71,284.87 L220.75,285.39 L221.81,285.90 L222.86,286.40 L223.93,286.88 L224.99,287.36 L226.07,287.82 L227.14,288.28 L228.22,288.72 L229.31,289.16 L230.40,289.59 L231.49,290.01 L232.59,290.42 L233.69,290.83 L234.79,291.23 L235.89,291.63 L237.00,292.02 L238.11,292.40 L239.23,292.78 L240.34,293.16 L241.46,293.53 L242.57,293.91 L243.69,294.28 L244.81,294.65 L245.93,295.01 L247.05,295.38 L248.18,295.75 L249.30,296.11 L250.42,296.48 L251.55,296.84 L252.67,297.20 L253.80,297.56 L254.92,297.92 L256.05,298.28 L257.18,298.63 L258.31,298.99 L259.44,299.34 L260.57,299.69 L261.70,300.04 L262.83,300.39 L263.96,300.73 L265.09,301.08 L266.23,301.42 L267.36,301.75 L268.50,302.09 L269.63,302.42 L270.77,302.76 L271.91,303.08 L273.05,303.41 L274.18,303.73 L275.32,304.06 L276.46,304.37 L277.61,304.69 L278.75,305.00 L279.89,305.31 L281.03,305.61 L282.18,305.92 L283.32,306.22 L284.47,306.51 L285.61,306.80 L286.76,307.09 L287.91,307.38 L289.05,307.66 L290.20,307.94 L291.35,308.21 L292.50,308.48 L293.65,308.75 L294.81,309.01 L295.96,309.27 L297.11,309.52 L298.26,309.77 L299.42,310.02 L300.57,310.26 L301.73,310.49 L302.89,310.73 L304.04,310.95 L305.20,311.18 L306.36,311.40 L307.52,311.61 L308.68,311.83 L309.84,312.03 L311.00,312.24 L312.16,312.44 L313.32,312.64 L314.49,312.84 L315.65,313.03 L316.81,313.22 L317.98,313.40 L319.14,313.59 L320.31,313.77 L321.47,313.95 L322.64,314.13 L323.80,314.30 L324.97,314.47 L326.14,314.64 L327.31,314.81 L328.47,314.98 L329.64,315.14 L330.81,315.31 L331.98,315.47 L333.15,315.63 L334.32,315.79 L335.49,315.95 L336.66,316.11 L337.83,316.27 L339.00,316.42 L340.17,316.58 L341.34,316.73 L342.51,316.89 L343.69,317.04 L344.86,317.20 L346.03,317.36 L347.20,317.52 L348.37,317.68 L349.54,317.84 L350.71,318.00 L351.88,318.17 L353.05,318.34 L354.22,318.51 L355.39,318.68 L356.56,318.86 L357.72,319.04 L358.89,319.23 L360.05,319.42 L361.22,319.62 L362.38,319.82 L363.54,320.03 L364.70,320.24 L365.86,320.46 L367.02,320.68 L368.17,320.91 L369.33,321.15 L370.48,321.40 L371.63,321.65 L372.78,321.92 L373.93,322.19 L375.07,322.47 L376.22,322.75 L377.36,323.05 L378.50,323.36 L379.63,323.67 L380.77,323.99 L381.90,324.32 L383.04,324.66 L384.17,325.00 L385.30,325.34 L386.43,325.68 L387.56,326.03 L388.70,326.37 L389.83,326.71 L390.96,327.05 L392.09,327.39 L393.23,327.72 L394.36,328.05 L395.50,328.37 L396.64,328.68 L397.78,328.98 L398.92,329.28 L400.07,329.56 L401.22,329.84 L402.36,330.11 L403.52,330.37 L404.67,330.63 L405.82,330.87 L406.98,331.12 L408.13,331.35 L409.29,331.58 L410.45,331.80 L411.61,332.02 L412.77,332.23 L413.94,332.43 L415.10,332.63 L416.26,332.82 L417.43,333.01 L418.60,333.20 L419.77,333.38 L420.93,333.56 L422.10,333.73 L423.27,333.90 L424.44,334.07 L425.61,334.23 L426.78,334.39 L427.96,334.55 L429.13,334.70 L430.30,334.85 L431.47,335.01 L432.64,335.15 L433.82,335.30 L434.99,335.45 L436.16,335.59 L437.33,335.74 L438.50,335.88"/>
<path d="M107.92,302.11 L108.81,301.51 L109.70,300.88 L110.58,300.24 L111.47,299.57 L112.36,298.88 L113.25,298.17 L114.14,297.45 L115.03,296.71 L115.92,295.96 L116.81,295.19 L117.71,294.41 L118.61,293.62 L119.51,292.82 L120.41,292.01 L121.31,291.19 L122.22,290.37 L123.13,289.54 L124.04,288.71 L124.95,287.88 L125.87,287.04 L126.79,286.21 L127.72,285.38 L128.65,284.55 L129.58,283.73 L130.52,282.91 L131.47,282.10 L132.41,281.29 L133.37,280.50 L134.32,279.71 L135.29,278.94 L136.25,278.18 L137.23,277.43 L138.21,276.70 L139.19,275.99 L140.18,275.29 L141.18,274.62 L142.19,273.96 L143.20,273.32 L144.22,272.71 L145.24,272.13 L146.27,271.57 L147.31,271.03 L148.36,270.52 L149.42,270.05 L150.48,269.60 L151.56,269.19 L152.64,268.80 L153.73,268.46 L154.82,268.14 L155.93,267.87 L157.05,267.63 L158.17,267.44 L159.31,267.28 L160.45,267.16 L161.61,267.09 L162.77,267.06 L163.94,267.06 L165.12,267.10 L166.30,267.18 L167.49,267.29 L168.68,267.42 L169.87,267.59 L171.06,267.79 L172.26,268.01 L173.45,268.26 L174.64,268.52 L175.83,268.81 L177.02,269.12 L178.20,269.44 L179.38,269.78 L180.54,270.13 L181.71,270.49 L182.86,270.87 L184.01,271.26 L185.15,271.66 L186.28,272.08 L187.40,272.50 L188.51,272.94 L189.62,273.40 L190.72,273.87 L191.81,274.35 L192.89,274.84 L193.96,275.35 L195.02,275.87 L196.07,276.41 L197.11,276.96 L198.15,277.53 L199.17,278.11 L200.19,278.70 L201.20,279.30 L202.21,279.91 L203.21,280.53 L204.21,281.16 L205.20,281.79 L206.19,282.43 L207.18,283.08 L208.16,283.73 L209.15,284.38 L210.14,285.03 L211.12,285.69 L212.11,286.35 L213.10,287.00 L214.10,287.66 L215.09,288.31 L216.09,288.96 L217.10,289.60 L218.11,290.24 L219.12,290.88 L220.14,291.50 L221.16,292.12 L222.18,292.73 L223.21,293.33 L224.25,293.92 L225.29,294.49 L226.34,295.05 L227.39,295.60 L228.45,296.14 L229.52,296.66 L230.59,297.16 L231.67,297.65 L232.75,298.13 L233.84,298.59 L234.94,299.04 L236.04,299.47 L237.15,299.89 L238.26,300.31 L239.37,300.71 L240.49,301.10 L241.62,301.48 L242.74,301.85 L243.87,302.21 L245.01,302.57 L246.14,302.92 L247.28,303.26 L248.43,303.59 L249.57,303.92 L250.72,304.25 L251.86,304.57 L253.01,304.88 L254.16,305.20 L255.32,305.51 L256.47,305.81 L257.62,306.12 L258.78,306.43 L259.93,306.73 L261.08,307.04 L262.23,307.35 L263.39,307.65 L264.54,307.96 L265.69,308.27 L266.84,308.58 L267.99,308.89 L269.14,309.19 L270.30,309.50 L271.45,309.81 L272.60,310.12 L273.75,310.43 L274.90,310.74 L276.05,311.05 L277.20,311.36 L278.35,311.67 L279.50,311.98 L280.65,312.29 L281.80,312.61 L282.94,312.92 L284.09,313.23 L285.24,313.54 L286.39,313.85 L287.54,314.16 L288.69,314.47 L289.84,314.79 L290.98,315.10 L292.13,315.41 L293.28,315.72 L294.43,316.03 L295.58,316.34 L296.72,316.65 L297.87,316.97 L299.02,317.28 L300.17,317.59 L301.31,317.90 L302.46,318.21 L303.61,318.52 L304.76,318.83 L305.90,319.14 L307.05,319.46 L308.20,319.77 L309.35,320.08 L310.49,320.39 L311.64,320.70 L312.79,321.01 L313.94,321.31 L315.08,321.62 L316.23,321.93 L317.38,322.24 L318.53,322.55 L319.67,322.86 L320.82,323.16 L321.97,323.47 L323.12,323.78 L324.26,324.09 L325.41,324.39 L326.56,324.70 L327.71,325.00 L328.86,325.31 L330.01,325.61 L331.15,325.92 L332.30,326.22 L333.45,326.52 L334.60,326.83 L335.75,327.13 L336.90,327.43 L338.05,327.73 L339.20,328.03 L340.35,328.33 L341.50,328.63 L342.65,328.93 L343.80,329.23 L344.95,329.52 L346.10,329.82 L347.25,330.12 L348.40,330.41 L349.56,330.71 L350.71,331.00 L351.86,331.30 L353.01,331.59 L354.16,331.88 L355.32,332.17 L356.47,332.46 L357.62,332.75 L358.78,333.04 L359.93,333.33 L361.09,333.62 L362.24,333.90 L363.40,334.19 L364.55,334.47 L365.71,334.76 L366.86,335.04 L368.02,335.32 L369.18,335.60 L370.33,335.87 L371.49,336.15 L372.65,336.42 L373.81,336.69 L374.97,336.96 L376.12,337.23 L377.28,337.49 L378.44,337.75 L379.61,338.01 L380.77,338.27 L381.93,338.52 L383.09,338.77 L384.25,339.02 L385.42,339.26 L386.58,339.51 L387.74,339.74 L388.91,339.98 L390.08,340.21 L391.24,340.44 L392.41,340.66 L393.58,340.88 L394.74,341.10 L395.91,341.31 L397.08,341.52 L398.25,341.73 L399.42,341.93 L400.59,342.13 L401.77,342.32 L402.94,342.50 L404.11,342.69 L405.29,342.86 L406.46,343.04 L407.64,343.20 L408.82,343.37 L409.99,343.52 L411.17,343.68 L412.35,343.82 L413.53,343.96 L414.71,344.10 L415.89,344.23 L417.08,344.35 L418.26,344.47 L419.44,344.59 L420.63,344.69 L421.82,344.79 L423.00,344.89 L424.19,344.97 L425.38,345.05 L426.57,345.13 L427.76,345.19 L428.95,345.26 L430.14,345.31 L431.34,345.36 L432.53,345.40 L433.73,345.43 L434.93,345.45 L436.12,345.47 L437.32,345.48 L438.52,345.48"/>
<path d="M107.69,343.52 L108.71,343.09 L109.72,342.65 L110.73,342.20 L111.73,341.73 L112.74,341.26 L113.75,340.77 L114.75,340.27 L115.75,339.77 L116.76,339.26 L117.76,338.74 L118.76,338.22 L119.76,337.69 L120.76,337.15 L121.76,336.61 L122.77,336.07 L123.77,335.52 L124.77,334.97 L125.78,334.42 L126.79,333.87 L127.79,333.32 L128.80,332.76 L129.82,332.21 L130.83,331.66 L131.85,331.12 L132.86,330.57 L133.89,330.03 L134.91,329.50 L135.94,328.97 L136.97,328.44 L138.00,327.92 L139.04,327.41 L140.08,326.90 L141.12,326.40 L142.17,325.91 L143.21,325.42 L144.26,324.94 L145.32,324.47 L146.37,324.01 L147.43,323.56 L148.49,323.12 L149.55,322.68 L150.62,322.26 L151.69,321.84 L152.76,321.44 L153.83,321.05 L154.90,320.66 L155.98,320.29 L157.06,319.93 L158.14,319.59 L159.22,319.25 L160.30,318.93 L161.39,318.62 L162.48,318.33 L163.57,318.05 L164.66,317.78 L165.75,317.53 L166.84,317.29 L167.94,317.07 L169.03,316.87 L170.13,316.68 L171.23,316.50 L172.33,316.34 L173.43,316.20 L174.54,316.08 L175.64,315.98 L176.75,315.89 L177.85,315.82 L178.96,315.77 L180.07,315.73 L181.18,315.72 L182.28,315.73 L183.39,315.75 L184.51,315.80 L185.62,315.86 L186.73,315.94 L187.84,316.03 L188.95,316.14 L190.07,316.27 L191.18,316.41 L192.30,316.56 L193.41,316.73 L194.52,316.91 L195.64,317.11 L196.75,317.31 L197.87,317.53 L198.99,317.76 L200.10,317.99 L201.22,318.24 L202.33,318.49 L203.45,318.76 L204.56,319.03 L205.68,319.31 L206.79,319.59 L207.91,319.88 L209.02,320.18 L210.14,320.48 L211.25,320.78 L212.36,321.09 L213.48,321.40 L214.59,321.72 L215.70,322.03 L216.81,322.35 L217.92,322.67 L219.03,322.98 L220.14,323.30 L221.25,323.62 L222.36,323.93 L223.47,324.24 L224.57,324.56 L225.68,324.87 L226.79,325.18 L227.89,325.48 L229.00,325.79 L230.10,326.09 L231.20,326.39 L232.31,326.69 L233.41,326.99 L234.51,327.29 L235.62,327.58 L236.72,327.87 L237.82,328.16 L238.92,328.44 L240.02,328.73 L241.13,329.01 L242.23,329.29 L243.33,329.56 L244.43,329.83 L245.53,330.10 L246.64,330.37 L247.74,330.63 L248.84,330.89 L249.94,331.15 L251.04,331.40 L252.15,331.65 L253.25,331.90 L254.35,332.14 L255.46,332.38 L256.56,332.62 L257.67,332.85 L258.77,333.07 L259.88,333.30 L260.99,333.52 L262.09,333.73 L263.20,333.94 L264.31,334.15 L265.42,334.35 L266.53,334.55 L267.64,334.74 L268.75,334.93 L269.87,335.11 L270.98,335.29 L272.09,335.46 L273.21,335.63 L274.33,335.79 L275.44,335.95 L276.56,336.10 L277.68,336.26 L278.80,336.40 L279.92,336.54 L281.04,336.68 L282.16,336.81 L283.29,336.94 L284.41,337.07 L285.53,337.19 L286.66,337.31 L287.79,337.42 L288.91,337.53 L290.04,337.64 L291.17,337.74 L292.29,337.85 L293.42,337.94 L294.55,338.04 L295.68,338.13 L296.81,338.22 L297.94,338.30 L299.07,338.39 L300.21,338.47 L301.34,338.54 L302.47,338.62 L303.60,338.69 L304.74,338.76 L305.87,338.83 L307.01,338.90 L308.14,338.96 L309.28,339.02 L310.41,339.08 L311.55,339.14 L312.68,339.20 L313.82,339.25 L314.96,339.31 L316.09,339.36 L317.23,339.41 L318.37,339.46 L319.51,339.51 L320.64,339.55 L321.78,339.60 L322.92,339.65 L324.06,339.69 L325.20,339.73 L326.33,339.78 L327.47,339.82 L328.61,339.86 L329.75,339.90 L330.89,339.94 L332.03,339.98 L333.17,340.03 L334.31,340.07 L335.44,340.11 L336.58,340.15 L337.72,340.19 L338.86,340.23 L340.00,340.27 L341.14,340.31 L342.28,340.36 L343.41,340.40 L344.55,340.44 L345.69,340.49 L346.83,340.53 L347.96,340.58 L349.10,340.63 L350.24,340.68 L351.37,340.73 L352.51,340.78 L353.65,340.83 L354.78,340.89 L355.92,340.94 L357.05,341.00 L358.19,341.06 L359.32,341.12 L360.45,341.18 L361.59,341.25 L362.72,341.32 L363.85,341.38 L364.99,341.45 L366.12,341.53 L367.25,341.60 L368.38,341.67 L369.51,341.75 L370.64,341.83 L371.77,341.91 L372.90,341.99 L374.03,342.07 L375.16,342.15 L376.29,342.24 L377.42,342.32 L378.55,342.41 L379.68,342.49 L380.81,342.58 L381.94,342.67 L383.07,342.76 L384.20,342.85 L385.33,342.94 L386.46,343.04 L387.58,343.13 L388.71,343.22 L389.84,343.32 L390.97,343.41 L392.10,343.50 L393.23,343.60 L394.35,343.70 L395.48,343.79 L396.61,343.89 L397.74,343.98 L398.87,344.08 L400.00,344.18 L401.13,344.27 L402.25,344.37 L403.38,344.47 L404.51,344.56 L405.64,344.66 L406.77,344.76 L407.90,344.85 L409.03,344.95 L410.16,345.04 L411.29,345.14 L412.42,345.23 L413.55,345.32 L414.68,345.42 L415.81,345.51 L416.94,345.60 L418.08,345.69 L419.21,345.78 L420.34,345.87 L421.47,345.96 L422.61,346.05 L423.74,346.13 L424.87,346.22 L426.01,346.30 L427.14,346.39 L428.28,346.47 L429.41,346.55 L430.55,346.63 L431.68,346.71 L432.82,346.79 L433.96,346.86 L435.09,346.93 L436.23,347.01 L437.37,347.08 L438.51,347.15"/>
</g></g>
<path d="M66.60,359.50v-4M66.60,214.40v4M107.91,359.50v-4M107.91,214.40v4M149.22,359.50v-4M149.22,214.40v4M190.53,359.50v-4M190.53,214.40v4M231.84,359.50v-4M231.84,214.40v4M273.15,359.50v-4M273.15,214.40v4M314.46,359.50v-4M314.46,214.40v4M355.77,359.50v-4M355.77,214.40v4M397.08,359.50v-4M397.08,214.40v4M438.39,359.50v-4M438.39,214.40v4M479.70,359.50v-4M479.70,214.40v4M67.00,359.50h4M479.50,359.50h-4M67.00,337.82h4M479.50,337.82h-4M67.00,316.13h4M479.50,316.13h-4M67.00,294.45h4M479.50,294.45h-4M67.00,272.77h4M479.50,272.77h-4M67.00,251.08h4M479.50,251.08h-4M67.00,229.40h4M479.50,229.40h-4" stroke="#000" stroke-width="0.8" fill="none"/>
<rect x="67.00" y="214.40" width="412.50" height="145.10" fill="none" stroke="#000" stroke-width="1.25"/>
<text x="66.60" y="368.60" font-size="10.00" textLength="4.60" lengthAdjust="spacingAndGlyphs" text-anchor="middle" >0</text>
<text x="107.91" y="368.60" font-size="10.00" textLength="4.60" lengthAdjust="spacingAndGlyphs" text-anchor="middle" >2</text>
<text x="149.22" y="368.60" font-size="10.00" textLength="4.60" lengthAdjust="spacingAndGlyphs" text-anchor="middle" >4</text>
<text x="190.53" y="368.60" font-size="10.00" textLength="4.60" lengthAdjust="spacingAndGlyphs" text-anchor="middle" >6</text>
<text x="231.84" y="368.60" font-size="10.00" textLength="4.60" lengthAdjust="spacingAndGlyphs" text-anchor="middle" >8</text>
<text x="273.15" y="368.60" font-size="10.00" textLength="8.80" lengthAdjust="spacingAndGlyphs" text-anchor="middle" >10</text>
<text x="314.46" y="368.60" font-size="10.00" textLength="8.80" lengthAdjust="spacingAndGlyphs" text-anchor="middle" >12</text>
<text x="355.77" y="368.60" font-size="10.00" textLength="8.80" lengthAdjust="spacingAndGlyphs" text-anchor="middle" >14</text>
<text x="397.08" y="368.60" font-size="10.00" textLength="8.80" lengthAdjust="spacingAndGlyphs" text-anchor="middle" >16</text>
<text x="438.39" y="368.60" font-size="10.00" textLength="8.80" lengthAdjust="spacingAndGlyphs" text-anchor="middle" >18</text>
<text x="479.70" y="368.60" font-size="10.00" textLength="9.70" lengthAdjust="spacingAndGlyphs" text-anchor="middle" >20</text>
<text x="64.10" y="362.30" font-size="9.70" textLength="4.60" lengthAdjust="spacingAndGlyphs" text-anchor="end" >0</text>
<text x="64.10" y="340.62" font-size="9.70" textLength="4.60" lengthAdjust="spacingAndGlyphs" text-anchor="end" >2</text>
<text x="64.10" y="318.93" font-size="9.70" textLength="4.60" lengthAdjust="spacingAndGlyphs" text-anchor="end" >4</text>
<text x="64.10" y="297.25" font-size="9.70" textLength="4.60" lengthAdjust="spacingAndGlyphs" text-anchor="end" >6</text>
<text x="64.10" y="275.57" font-size="9.70" textLength="4.60" lengthAdjust="spacingAndGlyphs" text-anchor="end" >8</text>
<text x="64.10" y="253.88" font-size="9.70" textLength="8.80" lengthAdjust="spacingAndGlyphs" text-anchor="end" >10</text>
<text x="64.10" y="232.20" font-size="9.70" textLength="8.80" lengthAdjust="spacingAndGlyphs" text-anchor="end" >12</text>
<text x="248.60" y="382.00" font-size="12.40" textLength="49.80" lengthAdjust="spacingAndGlyphs" >freq (Hz)</text>
<text x="239.90" y="231.90" font-size="12.50" textLength="91.20" lengthAdjust="spacingAndGlyphs" >Plume Evolution</text>
<g transform="translate(49.3,327.6) rotate(-90)"><text x="0.00" y="0.00" font-size="12.20" textLength="81.35" lengthAdjust="spacingAndGlyphs" >amplitude (dB)</text></g>
<rect x="391.4" y="217.3" width="80.3" height="37.3" fill="#fff" stroke="#666" stroke-width="0.7"/>
<path d="M398.8,223.50H421.1" stroke="#d02626" stroke-width="2.2"/>
<path d="M398.8,231.90H421.1" stroke="#d02626" stroke-width="2.2"/>
<path d="M398.8,240.20H421.1" stroke="#d02626" stroke-width="2.2"/>
<rect x="399.6" y="246" width="20.7" height="4.6" fill="#0000ff" stroke="#000" stroke-width="0.5"/>
<text x="429.10" y="226.70" font-size="10.40" textLength="35.90" lengthAdjust="spacingAndGlyphs" >Polihale</text>
<text x="429.10" y="234.80" font-size="10.40" textLength="35.90" lengthAdjust="spacingAndGlyphs" >Polihale</text>
<text x="429.10" y="243.10" font-size="10.40" textLength="35.90" lengthAdjust="spacingAndGlyphs" >Polihale</text>
<text x="429.10" y="251.10" font-size="10.40" textLength="27.90" lengthAdjust="spacingAndGlyphs" >Model</text></svg>
</body></html>
